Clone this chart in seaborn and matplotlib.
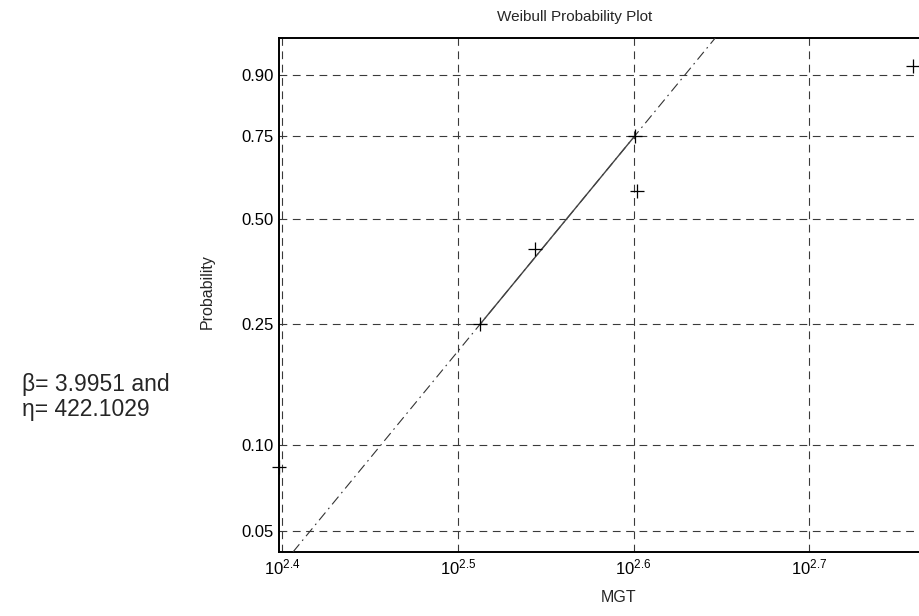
import numpy as np
import pandas as pd
import matplotlib
matplotlib.use("Agg")
import matplotlib.pyplot as plt
import seaborn as sns

# ---- data ----
mgt = [250.0, 325.5, 350.0, 399.6, 398.6, 574.0]          # MGT values
probability = [0.0833, 0.25, 0.4167, 0.5833, 0.75, 0.9167]  # plotting positions
y_ticks = [0.05, 0.10, 0.25, 0.50, 0.75, 0.90]
y_tick_labels = ["0.05", "0.10", "0.25", "0.50", "0.75", "0.90"]
x_tick_exps = [2.4, 2.5, 2.6, 2.7]
x_tick_labels = [r"$\mathregular{10^{2.4}}$", r"$\mathregular{10^{2.5}}$",
                 r"$\mathregular{10^{2.6}}$", r"$\mathregular{10^{2.7}}$"]
beta_text = "β= 3.9951 and\nη= 422.1029"
title = "Weibull Probability Plot"
xlabel = "MGT"
ylabel = "Probability"

df = pd.DataFrame({"MGT": mgt, "Probability": probability})

sns.set_theme(style="white")
plt.rcParams["font.family"] = ["Liberation Sans", "DejaVu Sans"]
plt.rcParams["mathtext.fontset"] = "custom"
plt.rcParams["mathtext.rm"] = "Liberation Sans"
plt.rcParams["mathtext.it"] = "Liberation Sans:italic"
plt.rcParams["mathtext.bf"] = "Liberation Sans:bold"

W, H = 920, 616
fig = plt.figure(figsize=(W / 100, H / 100), dpi=100)
# axes: left 279px, bottom 552px, top 38px, right edge beyond the figure
ax_left, ax_right_px = 279, 985
ax = fig.add_axes([ax_left / W, 1 - 552 / H, (ax_right_px - ax_left) / W, (552 - 38) / H])


def fwd(p):
    p = np.clip(p, 1e-9, 1 - 1e-9)
    return np.log(-np.log(1 - p))


def inv(y):
    return 1 - np.exp(-np.exp(y))


ax.set_xscale("log")
ax.set_yscale("function", functions=(fwd, inv))
xmin, xmax = 10 ** 2.39812, 10 ** 2.80
ymin, ymax = 0.0420, 0.9571
ax.set_xlim(xmin, xmax)
ax.set_ylim(ymin, ymax)

# reference line through the 25th and 75th percentile points
p_arr = np.array(probability)
x_arr = np.array(mgt)
i25 = int(np.argmin(np.abs(p_arr - 0.25)))
i75 = int(np.argmin(np.abs(p_arr - 0.75)))
lx25, lx75 = np.log(x_arr[i25]), np.log(x_arr[i75])
y25, y75 = fwd(p_arr[i25]), fwd(p_arr[i75])
slope = (y75 - y25) / (lx75 - lx25)
yy = np.linspace(fwd(ymin), fwd(ymax), 50)
xx = np.exp(lx25 + (yy - y25) / slope)
ax.plot(xx, inv(yy), linestyle=(0, (9, 4, 1.5, 4)), color="#333333", lw=0.8, zorder=3)
ax.plot([x_arr[i25], x_arr[i75]], [p_arr[i25], p_arr[i75]], "-", color="#444444", lw=1.0, zorder=3)

sns.scatterplot(data=df, x="MGT", y="Probability", marker="+", s=110, color="black",
                linewidth=0.9, ax=ax, zorder=4, clip_on=False)

ax.set_xticks([10 ** e for e in x_tick_exps])
ax.set_xticklabels(x_tick_labels, fontsize=12)
ax.xaxis.set_minor_locator(matplotlib.ticker.NullLocator())
ax.set_yticks(y_ticks)
ax.set_yticklabels(y_tick_labels, fontsize=12)
ax.yaxis.set_minor_locator(matplotlib.ticker.NullLocator())
ax.tick_params(axis="both", length=0, pad=4, colors="black")

ax.grid(True, which="major", linestyle=(0, (7, 5)), color="#3a3a3a", lw=0.8)
for s in ["left", "bottom", "top", "right"]:
    ax.spines[s].set_color("black")
    ax.spines[s].set_linewidth(1.4)

ax.set_xlabel("")
ax.set_ylabel("")
fig.text(619 / W, 1 - 598 / H, xlabel, ha="center", va="center", fontsize=11.5)
fig.text(207 / W, 1 - 292 / H, ylabel, ha="center", va="center", rotation=90, fontsize=11.5)
fig.text(575 / W, 1 - 17 / H, title, ha="center", va="center", fontsize=11)
fig.text(22 / W, 1 - 397 / H, beta_text, ha="left", va="center", fontsize=16.5, linespacing=1.15)

fig.savefig("out.png", dpi=100)
